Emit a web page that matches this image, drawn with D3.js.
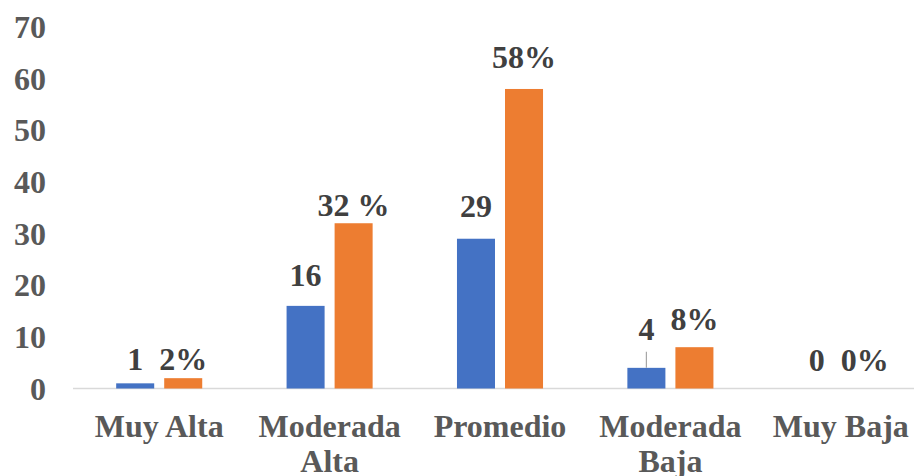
<!DOCTYPE html>
<html>
<head>
<meta charset="utf-8">
<script src="https://cdn.jsdelivr.net/npm/d3@7"></script>
<style>
  body { margin: 0; background: #fff; }
  text { font-family: "Liberation Serif", "Times New Roman", serif; font-weight: bold; }
</style>
</head>
<body>
<div id="chart"></div>
<script>
// chart data
const categories = [["Muy Alta"], ["Moderada", "Alta"], ["Promedio"], ["Moderada", "Baja"], ["Muy Baja"]];
const countValues = [1, 16, 29, 4, 0];
const percentValues = [2, 32, 58, 8, 0];
const countLabels = ["1", "16", "29", "4", "0"];
const percentLabels = ["2%", "32 %", "58%", "8%", "0%"];
const yTicks = [0, 10, 20, 30, 40, 50, 60, 70];

const width = 914, height = 476;
const svg = d3.select("#chart").append("svg").attr("width", width).attr("height", height);

const x = d3.scaleBand()
  .domain(d3.range(categories.length))
  .range([74, 926])
  .paddingInner(0.495)
  .paddingOuter(0.2475);

const sub = d3.scaleBand()
  .domain(["count", "percent"])
  .range([0, x.bandwidth()])
  .paddingInner(0.2083);

const y = d3.scaleLinear().domain([0, 70]).range([388.5, 27]);

// y tick labels (no axis line)
svg.append("g").selectAll("text").data(yTicks).enter().append("text")
  .attr("x", 46)
  .attr("y", d => y(d))
  .attr("dy", "0.35em")
  .attr("text-anchor", "end")
  .attr("fill", "#595959")
  .style("font-size", "32px")
  .text(d => d);

// base line
svg.append("line")
  .attr("x1", 73).attr("x2", width)
  .attr("y1", y(0)).attr("y2", y(0))
  .attr("stroke", "#d9d9d9").attr("stroke-width", 1.5);

const series = [
  {key: "count", values: countValues, labels: countLabels, color: "#4472c4", lift: [13, 20, 22, 28, 18]},
  {key: "percent", values: percentValues, labels: percentLabels, color: "#ed7d31", lift: [8, 7, 21, 17, 18]}
];

series.forEach(s => {
  const g = svg.append("g");
  g.selectAll("rect").data(s.values).enter().append("rect")
    .attr("x", (d, i) => x(i) + sub(s.key))
    .attr("y", d => y(d))
    .attr("width", sub.bandwidth())
    .attr("height", d => y(0) - y(d))
    .attr("fill", s.color);

  g.selectAll("text").data(s.values).enter().append("text")
    .attr("x", (d, i) => x(i) + sub(s.key) + sub.bandwidth() / 2)
    .attr("y", (d, i) => y(d) - s.lift[i])
    .attr("text-anchor", "middle")
    .attr("fill", "#404040")
    .style("font-size", "32px")
    .text((d, i) => s.labels[i]);
});

// leader line for the moved label "4"
svg.append("line")
  .attr("x1", x(3) + sub("count") + sub.bandwidth() / 2)
  .attr("x2", x(3) + sub("count") + sub.bandwidth() / 2)
  .attr("y1", y(countValues[3]) - 16)
  .attr("y2", y(countValues[3]))
  .attr("stroke", "#a6a6a6").attr("stroke-width", 1.2);

// category labels
const cat = svg.append("g").selectAll("text").data(categories).enter().append("text")
  .attr("x", (d, i) => x(i) + x.bandwidth() / 2)
  .attr("y", 437)
  .attr("text-anchor", "middle")
  .attr("fill", "#595959")
  .style("font-size", "32px");
cat.selectAll("tspan").data(d => d).enter().append("tspan")
  .attr("x", function() { return d3.select(this.parentNode).attr("x"); })
  .attr("dy", (d, i) => i === 0 ? 0 : 35)
  .text(d => d);
</script>
</body>
</html>
